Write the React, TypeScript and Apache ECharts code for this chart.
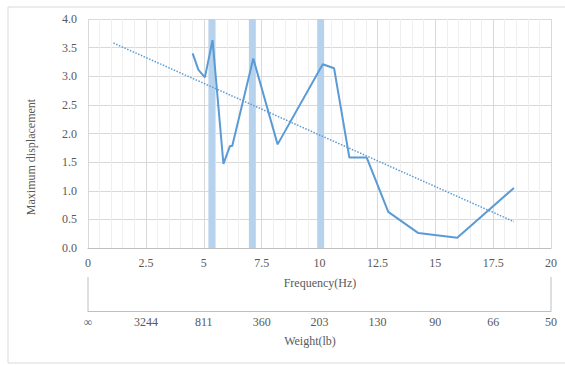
import React, { useEffect, useRef } from "react";
import * as echarts from "echarts";

const freq = [4.52, 4.77, 5.05, 5.38, 5.85, 6.13, 6.23, 7.14, 8.19, 10.14, 10.63, 11.29, 12.04, 12.97, 14.27, 15.95, 18.4];
const disp = [3.4, 3.11, 2.98, 3.63, 1.47, 1.78, 1.78, 3.31, 1.81, 3.21, 3.14, 1.58, 1.58, 0.63, 0.26, 0.18, 1.05];
const trendX = [1.1, 18.4];
const trendY = [3.58, 0.46];
const bandStart = [5.2, 6.95, 9.9];
const bandEnd = [5.5, 7.25, 10.2];
const weightLabels = ["∞", "3244", "811", "360", "203", "130", "90", "66", "50"];

const FONT = "Liberation Serif";
const TXT = "#595959";

export default function App() {
  const ref = useRef<HTMLDivElement>(null);
  useEffect(() => {
    if (!ref.current) return;
    const chart = echarts.init(ref.current, undefined, { renderer: "svg" });
    chart.setOption({
      animation: false,
      backgroundColor: "#fff",
      textStyle: { fontFamily: FONT },
      grid: { left: 88, top: 19, right: 14, bottom: 117 },
      xAxis: [
        {
          type: "value",
          min: 0,
          max: 20,
          interval: 2.5,
          axisLine: { show: true, lineStyle: { color: "#bfbfbf" } },
          axisTick: { show: false },
          axisLabel: { color: TXT, fontSize: 12, fontFamily: FONT, margin: 9 },
          splitLine: { show: true, lineStyle: { color: "#d9d9d9" } },
          minorTick: { show: false, splitNumber: 5 },
          minorSplitLine: { show: true, lineStyle: { color: "#efefef" } },
        },
        {
          type: "value",
          position: "bottom",
          offset: 63,
          min: 0,
          max: 20,
          interval: 2.5,
          axisLine: { show: true, onZero: false, lineStyle: { color: "#bfbfbf" } },
          axisTick: { show: false },
          splitLine: { show: false },
          axisLabel: {
            color: TXT,
            fontSize: 12,
            fontFamily: FONT,
            margin: 5,
            formatter: (v: number) => weightLabels[Math.round(v / 2.5)] ?? "",
          },
        },
      ],
      yAxis: {
        type: "value",
        min: 0,
        max: 4,
        interval: 0.5,
        axisLine: { show: false },
        axisTick: { show: false },
        axisLabel: {
          color: TXT,
          fontSize: 12,
          fontFamily: FONT,
          margin: 11,
          formatter: (v: number) => v.toFixed(1),
        },
        splitLine: { show: true, lineStyle: { color: "#d9d9d9" } },
      },
      series: [
        {
          type: "line",
          xAxisIndex: 0,
          data: freq.map((f, i) => [f, disp[i]]),
          showSymbol: false,
          lineStyle: { color: "#5b9bd5", width: 2 },
          z: 3,
          markArea: {
            silent: true,
            itemStyle: { color: "#b7d2ec" },
            data: bandStart.map((s, i) => [{ xAxis: s }, { xAxis: bandEnd[i] }]),
          },
        },
        {
          type: "line",
          xAxisIndex: 0,
          data: trendX.map((x, i) => [x, trendY[i]]),
          showSymbol: false,
          lineStyle: { color: "#5b9bd5", width: 1.5, type: "dotted" },
          z: 4,
        },
      ],
      graphic: [
        {
          type: "rect",
          shape: { x: 8, y: 7, width: 570, height: 356 },
          style: { fill: "none", stroke: "#d9d9d9", lineWidth: 1 },
          silent: true,
        },
        {
          type: "line",
          shape: { x1: 88, y1: 277, x2: 88, y2: 311 },
          style: { stroke: "#bfbfbf", lineWidth: 1 },
        },
        {
          type: "line",
          shape: { x1: 551, y1: 277, x2: 551, y2: 311 },
          style: { stroke: "#bfbfbf", lineWidth: 1 },
        },
        {
          type: "text",
          x: 320,
          y: 283,
          style: { text: "Frequency(Hz)", fill: TXT, fontSize: 12, fontFamily: FONT, align: "center", verticalAlign: "middle" },
        },
        {
          type: "text",
          x: 310,
          y: 341,
          style: { text: "Weight(lb)", fill: TXT, fontSize: 12, fontFamily: FONT, align: "center", verticalAlign: "middle" },
        },
        {
          type: "text",
          x: 31,
          y: 157,
          rotation: Math.PI / 2,
          style: { text: "Maximum displacement", fill: TXT, fontSize: 12, fontFamily: FONT, align: "center", verticalAlign: "middle" },
        },
      ],
    });
    return () => chart.dispose();
  }, []);
  return <div ref={ref} style={{ position: "fixed", left: 0, top: 0, width: 565, height: 365 }} />;
}
